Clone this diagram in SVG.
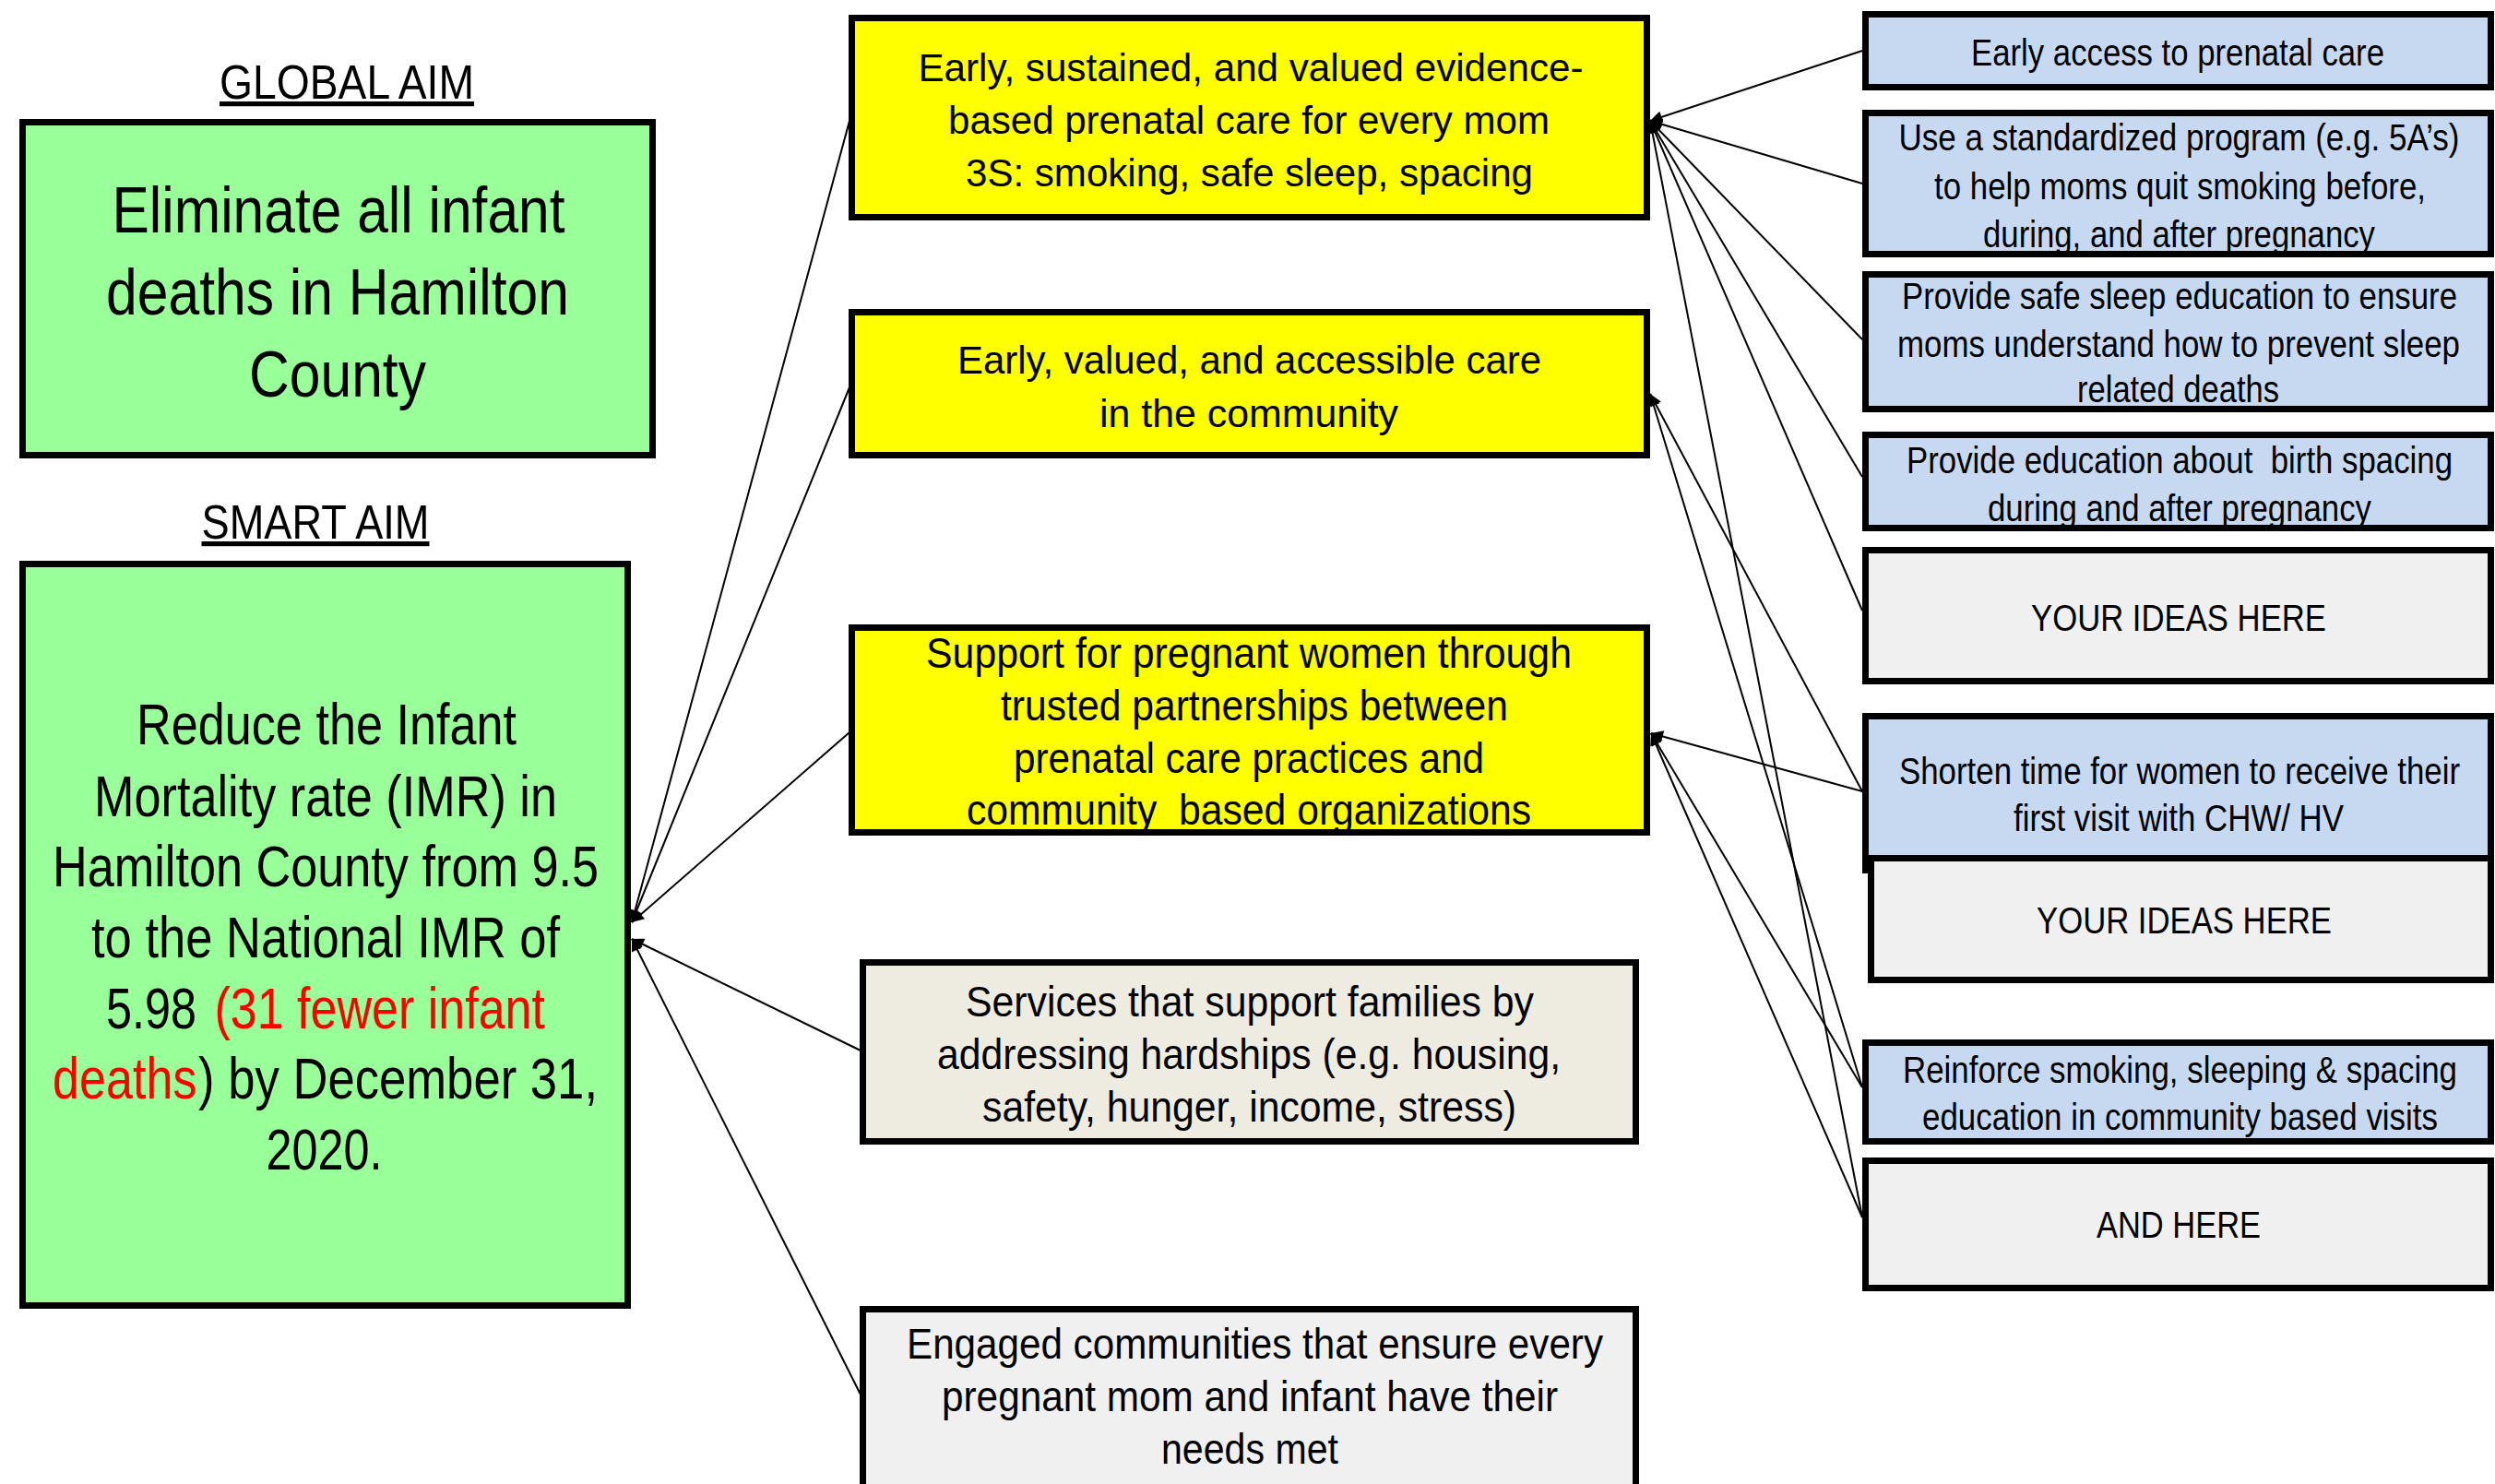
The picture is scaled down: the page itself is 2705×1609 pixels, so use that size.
<svg xmlns="http://www.w3.org/2000/svg" width="2705" height="1609" viewBox="0 0 2705 1609">
<defs>
<marker id="arr" viewBox="0 0 10 10" refX="10" refY="5" markerWidth="18" markerHeight="13" markerUnits="userSpaceOnUse" orient="auto">
<path d="M0,0 L10,5 L0,10 z" fill="#000"/>
</marker>
</defs>
<style>
.box{stroke:#000;stroke-width:7}
.green{fill:#99FF99}
.yellow{fill:#FFFF00}
.blue{fill:#C6D9F1}
.gray{fill:#F0F0F0}
.beige{fill:#EEECE1}
.n{font-family:"Liberation Sans Narrow","Arial Narrow","Liberation Sans",Arial,sans-serif;text-anchor:middle;fill:#000;white-space:pre}
.r{font-family:"Liberation Sans",Arial,sans-serif;text-anchor:middle;fill:#000;white-space:pre}
.s{text-anchor:start}
.red{fill:#FF0000}
.conn line{stroke:#000;stroke-width:2;marker-end:url(#arr)}
</style>
<rect width="2705" height="1609" fill="#FFFFFF"/>

<g id="global-aim-title">
<text class="n" x="376" y="107" font-size="52" text-decoration="underline" textLength="276" lengthAdjust="spacingAndGlyphs">GLOBAL AIM</text>
</g>
<g id="global-aim">
<rect class="box green" x="24.5" y="132.5" width="683" height="361"/>
<text class="n" font-size="70" x="367" y="252" textLength="491" lengthAdjust="spacingAndGlyphs">Eliminate all infant</text>
<text class="n" font-size="70" x="366" y="341" textLength="502" lengthAdjust="spacingAndGlyphs">deaths in Hamilton</text>
<text class="n" font-size="70" x="366" y="430" textLength="192" lengthAdjust="spacingAndGlyphs">County</text>
</g>

<g id="smart-aim-title">
<text class="n" x="342" y="584" font-size="52" text-decoration="underline" textLength="247" lengthAdjust="spacingAndGlyphs">SMART AIM</text>
</g>
<g id="smart-aim">
<rect class="box green" x="24.5" y="611.5" width="656" height="804"/>
<text class="r" font-size="63" transform="translate(354,807) scale(0.83,1)" textLength="496.4" lengthAdjust="spacingAndGlyphs">Reduce the Infant</text>
<text class="r" font-size="63" transform="translate(353,885) scale(0.83,1)" textLength="604.8" lengthAdjust="spacingAndGlyphs">Mortality rate (IMR) in</text>
<text class="r" font-size="63" transform="translate(353,961) scale(0.83,1)" textLength="713.3" lengthAdjust="spacingAndGlyphs">Hamilton County from 9.5</text>
<text class="r" font-size="63" transform="translate(353,1038) scale(0.83,1)" textLength="612" lengthAdjust="spacingAndGlyphs">to the National IMR of</text>
<text class="r s" font-size="63" transform="translate(115,1115) scale(0.83,1)" textLength="118.1" lengthAdjust="spacingAndGlyphs">5.98</text>
<text class="r s red" font-size="63" transform="translate(232.5,1115) scale(0.83,1)" textLength="431.9" lengthAdjust="spacingAndGlyphs">(31 fewer infant</text>
<text class="r s red" font-size="63" transform="translate(57,1191) scale(0.83,1)" textLength="188.6" lengthAdjust="spacingAndGlyphs">deaths</text>
<text class="r s" font-size="63" transform="translate(215,1191) scale(0.83,1)" textLength="521.7" lengthAdjust="spacingAndGlyphs">) by December 31,</text>
<text class="r" font-size="63" transform="translate(351.5,1268) scale(0.83,1)" textLength="151.8" lengthAdjust="spacingAndGlyphs">2020.</text>
</g>

<g id="driver-prenatal-care">
<rect class="box yellow" x="923.5" y="19.5" width="862" height="216"/>
<text class="n" font-size="42" x="1356" y="87.5" textLength="721" lengthAdjust="spacingAndGlyphs">Early, sustained, and valued evidence-</text>
<text class="n" font-size="42" x="1354" y="144.6" textLength="652" lengthAdjust="spacingAndGlyphs">based prenatal care for every mom</text>
<text class="n" font-size="42" x="1354.5" y="201.8" textLength="615" lengthAdjust="spacingAndGlyphs">3S: smoking, safe sleep, spacing</text>
</g>
<g id="driver-community-care">
<rect class="box yellow" x="923.5" y="338.5" width="862" height="155"/>
<text class="n" font-size="42" x="1354.5" y="405" textLength="633" lengthAdjust="spacingAndGlyphs">Early, valued, and accessible care</text>
<text class="n" font-size="42" x="1354" y="462.5" textLength="324" lengthAdjust="spacingAndGlyphs">in the community</text>
</g>
<g id="driver-partnerships">
<rect class="box yellow" x="923.5" y="680.5" width="862" height="222"/>
<text class="r" font-size="46" x="1354" y="724" textLength="700" lengthAdjust="spacingAndGlyphs">Support for pregnant women through</text>
<text class="r" font-size="46" x="1360" y="781" textLength="550" lengthAdjust="spacingAndGlyphs">trusted partnerships between</text>
<text class="r" font-size="46" x="1354" y="838" textLength="510" lengthAdjust="spacingAndGlyphs">prenatal care practices and</text>
<text class="r" font-size="46" x="1354" y="894" textLength="612" lengthAdjust="spacingAndGlyphs">community  based organizations</text>
</g>
<g id="driver-hardships">
<rect class="box beige" x="935.5" y="1043.5" width="838" height="194"/>
<text class="r" font-size="46" x="1355" y="1102" textLength="616" lengthAdjust="spacingAndGlyphs">Services that support families by</text>
<text class="r" font-size="46" x="1354" y="1159" textLength="676" lengthAdjust="spacingAndGlyphs">addressing hardships (e.g. housing,</text>
<text class="r" font-size="46" x="1354.5" y="1215.5" textLength="579" lengthAdjust="spacingAndGlyphs">safety, hunger, income, stress)</text>
</g>
<g id="driver-engaged-communities">
<rect class="box gray" x="935.5" y="1419.5" width="838" height="220"/>
<text class="r" font-size="46" x="1360.5" y="1473" textLength="755" lengthAdjust="spacingAndGlyphs">Engaged communities that ensure every</text>
<text class="r" font-size="46" x="1355" y="1530" textLength="668" lengthAdjust="spacingAndGlyphs">pregnant mom and infant have their</text>
<text class="r" font-size="46" x="1355" y="1587" textLength="192" lengthAdjust="spacingAndGlyphs">needs met</text>
</g>

<g id="idea-early-access">
<rect class="box blue" x="2022.5" y="15.5" width="678" height="79"/>
<text class="n" font-size="40" transform="translate(2361,71) scale(0.87,1)" textLength="514.9" lengthAdjust="spacingAndGlyphs">Early access to prenatal care</text>
</g>
<g id="idea-smoking-program">
<rect class="box blue" x="2022.5" y="122.5" width="678" height="153"/>
<text class="n" font-size="40" transform="translate(2362.5,163) scale(0.87,1)" textLength="698.9" lengthAdjust="spacingAndGlyphs">Use a standardized program (e.g. 5A’s)</text>
<text class="n" font-size="40" transform="translate(2363.5,216) scale(0.87,1)" textLength="612.6" lengthAdjust="spacingAndGlyphs">to help moms quit smoking before,</text>
<text class="n" font-size="40" transform="translate(2362.5,268) scale(0.87,1)" textLength="488.5" lengthAdjust="spacingAndGlyphs">during, and after pregnancy</text>
</g>
<g id="idea-safe-sleep">
<rect class="box blue" x="2022.5" y="297.5" width="678" height="146"/>
<text class="n" font-size="40" transform="translate(2363,335) scale(0.87,1)" textLength="692" lengthAdjust="spacingAndGlyphs">Provide safe sleep education to ensure</text>
<text class="n" font-size="40" transform="translate(2362,386.5) scale(0.87,1)" textLength="701.1" lengthAdjust="spacingAndGlyphs">moms understand how to prevent sleep</text>
<text class="n" font-size="40" transform="translate(2361.5,436) scale(0.87,1)" textLength="251.7" lengthAdjust="spacingAndGlyphs">related deaths</text>
</g>
<g id="idea-birth-spacing">
<rect class="box blue" x="2022.5" y="471.5" width="678" height="101"/>
<text class="n" font-size="40" transform="translate(2363,513) scale(0.87,1)" textLength="680.5" lengthAdjust="spacingAndGlyphs">Provide education about  birth spacing</text>
<text class="n" font-size="40" transform="translate(2363,564.5) scale(0.87,1)" textLength="478.2" lengthAdjust="spacingAndGlyphs">during and after pregnancy</text>
</g>
<g id="idea-your-ideas-1">
<rect class="box gray" x="2022.5" y="596.5" width="678" height="142"/>
<text class="n" font-size="40" transform="translate(2362,684) scale(0.87,1)" textLength="367.8" lengthAdjust="spacingAndGlyphs">YOUR IDEAS HERE</text>
</g>
<g id="idea-shorten-time">
<rect class="box blue" x="2022.5" y="776.5" width="678" height="167"/>
<text class="n" font-size="40" transform="translate(2363,850) scale(0.87,1)" textLength="698.9" lengthAdjust="spacingAndGlyphs">Shorten time for women to receive their</text>
<text class="n" font-size="40" transform="translate(2362,901) scale(0.87,1)" textLength="411.5" lengthAdjust="spacingAndGlyphs">first visit with CHW/ HV</text>
</g>
<g id="idea-your-ideas-2">
<rect class="box gray" x="2028.5" y="930.5" width="672" height="132"/>
<text class="n" font-size="40" transform="translate(2368,1012) scale(0.87,1)" textLength="367.8" lengthAdjust="spacingAndGlyphs">YOUR IDEAS HERE</text>
</g>
<g id="idea-reinforce">
<rect class="box blue" x="2022.5" y="1130.5" width="678" height="107"/>
<text class="n" font-size="40" transform="translate(2363.5,1174) scale(0.87,1)" textLength="690.8" lengthAdjust="spacingAndGlyphs">Reinforce smoking, sleeping &amp; spacing</text>
<text class="n" font-size="40" transform="translate(2363.5,1225) scale(0.87,1)" textLength="642.5" lengthAdjust="spacingAndGlyphs">education in community based visits</text>
</g>
<g id="idea-and-here">
<rect class="box gray" x="2022.5" y="1258.5" width="678" height="138"/>
<text class="n" font-size="40" transform="translate(2362,1342) scale(0.87,1)" textLength="204.6" lengthAdjust="spacingAndGlyphs">AND HERE</text>
</g>

<g id="connectors" class="conn">
<line x1="921" y1="131" x2="685" y2="1000"/>
<line x1="921" y1="420" x2="685" y2="1000"/>
<line x1="921" y1="794" x2="685" y2="1000"/>
<line x1="933" y1="1139" x2="685" y2="1018"/>
<line x1="933" y1="1512" x2="685" y2="1018"/>
<line x1="2019" y1="55" x2="1789" y2="131"/>
<line x1="2019" y1="199" x2="1789" y2="131"/>
<line x1="2019" y1="368" x2="1789" y2="131"/>
<line x1="2019" y1="517" x2="1789" y2="131"/>
<line x1="2019" y1="662" x2="1789" y2="131"/>
<line x1="2019" y1="1320" x2="1789" y2="131"/>
<line x1="2019" y1="858" x2="1789" y2="427"/>
<line x1="2019" y1="1179" x2="1789" y2="427"/>
<line x1="2019" y1="858" x2="1790" y2="795"/>
<line x1="2019" y1="1179" x2="1790" y2="795"/>
<line x1="2019" y1="1320" x2="1790" y2="795"/>
</g>
</svg>
